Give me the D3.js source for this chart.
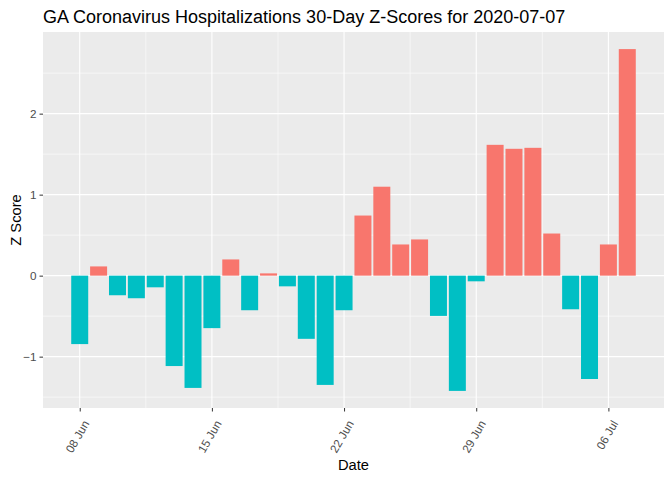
<!DOCTYPE html>
<html>
<head>
<meta charset="utf-8">
<script src="https://d3js.org/d3.v7.min.js"></script>
<style>
  body { margin: 0; background: #fff; }
  text { font-family: "Liberation Sans", Arial, sans-serif; }
</style>
</head>
<body>
<svg id="chart" width="672" height="480"></svg>
<script>
// 30 days ending 2020-07-07
const dates = ["2020-06-08","2020-06-09","2020-06-10","2020-06-11","2020-06-12","2020-06-13","2020-06-14",
  "2020-06-15","2020-06-16","2020-06-17","2020-06-18","2020-06-19","2020-06-20","2020-06-21",
  "2020-06-22","2020-06-23","2020-06-24","2020-06-25","2020-06-26","2020-06-27","2020-06-28",
  "2020-06-29","2020-06-30","2020-07-01","2020-07-02","2020-07-03","2020-07-04","2020-07-05",
  "2020-07-06","2020-07-07"];
const zScores = [-0.845, 0.114, -0.242, -0.279, -0.144, -1.116, -1.386,
  -0.648, 0.20, -0.427, 0.028, -0.132, -0.78, -1.349,
  -0.427, 0.742, 1.098, 0.385, 0.447, -0.497, -1.423,
  -0.07, 1.615, 1.566, 1.578, 0.52, -0.415, -1.276,
  0.385, 2.797];
const yTicks = [-1, 0, 1, 2];
const yMinor = [-1.5, -0.5, 0.5, 1.5, 2.5];
const xTickLabels = ["2020-06-08","2020-06-15","2020-06-22","2020-06-29","2020-07-06"];

const parse = d3.utcParse("%Y-%m-%d");
const data = dates.map((d, i) => ({date: parse(d), z: zScores[i]}));
const DAY = 864e5;

const svg = d3.select("#chart");
const panel = {left: 43, right: 664, top: 32, bottom: 408};

// ggplot style 5% expansion around bar extents
const t0 = data[0].date.getTime(), t1 = data[data.length - 1].date.getTime();
const lo = t0 - 0.45 * DAY, hi = t1 + 0.45 * DAY, pad = (hi - lo) * 0.05;
const x = d3.scaleUtc().domain([new Date(lo - pad), new Date(hi + pad)]).range([panel.left, panel.right]);

const zMin = d3.min(zScores), zMax = d3.max(zScores), zPad = (zMax - zMin) * 0.05;
const y = d3.scaleLinear().domain([zMin - zPad, zMax + zPad]).range([panel.bottom, panel.top]);

svg.append("rect")
  .attr("x", panel.left).attr("y", panel.top)
  .attr("width", panel.right - panel.left).attr("height", panel.bottom - panel.top)
  .attr("fill", "#EBEBEB");

const grid = svg.append("g");
const xMajor = xTickLabels.map(parse);
const xMinorT = xMajor.slice(0, -1).map(d => new Date(d.getTime() + 3.5 * DAY));
xMinorT.unshift(new Date(xMajor[0].getTime() - 3.5 * DAY));
xMinorT.push(new Date(xMajor[xMajor.length - 1].getTime() + 3.5 * DAY));

grid.selectAll(".ymin").data(yMinor).join("line")
  .attr("x1", panel.left).attr("x2", panel.right)
  .attr("y1", d => y(d)).attr("y2", d => y(d))
  .attr("stroke", "#fff").attr("stroke-width", 0.55);
grid.selectAll(".xmin").data(xMinorT.filter(d => x(d) > panel.left && x(d) < panel.right)).join("line")
  .attr("y1", panel.top).attr("y2", panel.bottom)
  .attr("x1", d => x(d)).attr("x2", d => x(d))
  .attr("stroke", "#fff").attr("stroke-width", 0.55);
grid.selectAll(".ymaj").data(yTicks).join("line")
  .attr("x1", panel.left).attr("x2", panel.right)
  .attr("y1", d => y(d)).attr("y2", d => y(d))
  .attr("stroke", "#fff").attr("stroke-width", 1.1);
grid.selectAll(".xmaj").data(xMajor).join("line")
  .attr("y1", panel.top).attr("y2", panel.bottom)
  .attr("x1", d => x(d)).attr("x2", d => x(d))
  .attr("stroke", "#fff").attr("stroke-width", 1.1);

// bars
const bw = x(new Date(t0 + 0.9 * DAY)) - x(new Date(t0));
svg.append("g").selectAll("rect").data(data).join("rect")
  .attr("x", d => x(d.date) - bw / 2)
  .attr("width", bw)
  .attr("y", d => y(Math.max(0, d.z)))
  .attr("height", d => Math.abs(y(d.z) - y(0)))
  .attr("fill", d => d.z > 0 ? "#F8766D" : "#00BFC4");

// y axis
const yAxis = svg.append("g").attr("transform", `translate(${panel.left},0)`)
  .call(d3.axisLeft(y).tickValues(yTicks).tickSize(3.5).tickPadding(3).tickFormat(d3.format("d")));
yAxis.select(".domain").remove();
yAxis.selectAll("line").attr("stroke", "#333");
yAxis.selectAll("text").attr("fill", "#4D4D4D").style("font-size", "11.7px")
  .style("font-family", "'Liberation Sans', Arial, sans-serif");

// x axis
const xAxis = svg.append("g").attr("transform", `translate(0,${panel.bottom})`)
  .call(d3.axisBottom(x).tickValues(xMajor).tickSize(3.5).tickFormat(d3.utcFormat("%d %b")));
xAxis.select(".domain").remove();
xAxis.selectAll("line").attr("stroke", "#333");
xAxis.selectAll("text")
  .attr("fill", "#4D4D4D").style("font-size", "11.7px")
  .style("font-family", "'Liberation Sans', Arial, sans-serif")
  .attr("text-anchor", "end")
  .attr("y", null).attr("dy", "0.75em")
  .attr("transform", "translate(2,11) rotate(-60)");

// titles
svg.append("text").attr("x", panel.left).attr("y", 22.5)
  .style("font-size", "18px").attr("fill", "#000")
  .text("GA Coronavirus Hospitalizations 30-Day Z-Scores for 2020-07-07");
svg.append("text").attr("x", (panel.left + panel.right) / 2).attr("y", 470)
  .attr("text-anchor", "middle").style("font-size", "14.7px").attr("fill", "#000")
  .text("Date");
svg.append("text").attr("transform", `translate(20.5,${(panel.top + panel.bottom) / 2}) rotate(-90)`)
  .attr("text-anchor", "middle").style("font-size", "14.7px").attr("fill", "#000")
  .text("Z Score");
</script>
</body>
</html>
